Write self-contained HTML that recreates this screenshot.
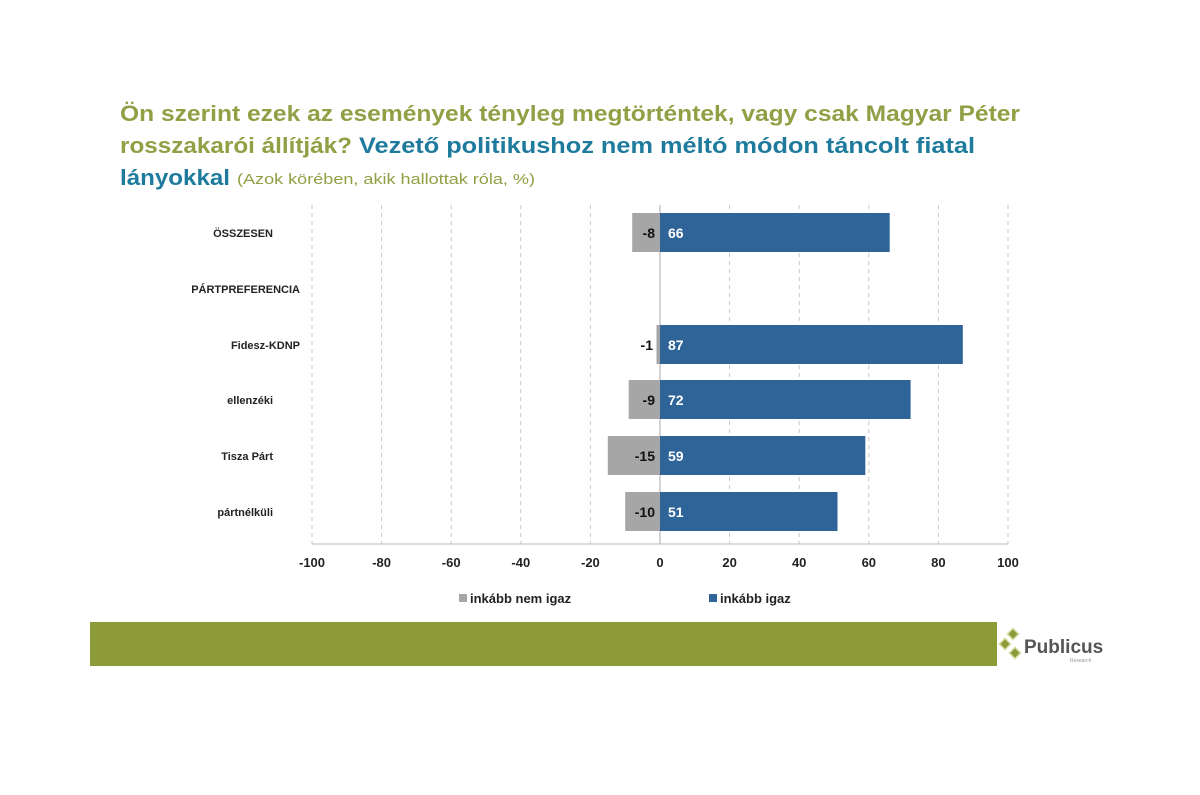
<!DOCTYPE html>
<html><head><meta charset="utf-8"><style>body{margin:0;background:#fff}svg{display:block}</style></head><body>
<svg width="1200" height="795" xmlns="http://www.w3.org/2000/svg" font-family="Liberation Sans, sans-serif">
<rect width="1200" height="795" fill="#fff"/>
<g font-size="22" font-weight="bold">
<text x="120" y="121" fill="#8fa045" textLength="900" lengthAdjust="spacingAndGlyphs">Ön szerint ezek az események tényleg megtörténtek, vagy csak Magyar Péter</text>
<text x="120" y="153" fill="#8fa045" textLength="232" lengthAdjust="spacingAndGlyphs">rosszakarói állítják?</text>
<text x="359" y="153" fill="#1f7b9e" textLength="616" lengthAdjust="spacingAndGlyphs">Vezető politikushoz nem méltó módon táncolt fiatal</text>
<text x="120" y="185" fill="#1f7b9e" textLength="110" lengthAdjust="spacingAndGlyphs">lányokkal</text>
</g>
<text x="237" y="184" fill="#8fa045" font-size="15" textLength="298" lengthAdjust="spacingAndGlyphs">(Azok körében, akik hallottak róla, %)</text>
<g stroke="#c8c8c8" stroke-dasharray="4,4" stroke-width="1">
<line x1="312" y1="205" x2="312" y2="544"/><line x1="381.6" y1="205" x2="381.6" y2="544"/><line x1="451.2" y1="205" x2="451.2" y2="544"/><line x1="520.8" y1="205" x2="520.8" y2="544"/><line x1="590.4" y1="205" x2="590.4" y2="544"/><line x1="729.6" y1="205" x2="729.6" y2="544"/><line x1="799.2" y1="205" x2="799.2" y2="544"/><line x1="868.8" y1="205" x2="868.8" y2="544"/><line x1="938.4" y1="205" x2="938.4" y2="544"/><line x1="1008" y1="205" x2="1008" y2="544"/>
</g>
<line x1="312" y1="544" x2="1008" y2="544" stroke="#bbb"/>
<line x1="660" y1="205" x2="660" y2="544" stroke="#aaa"/>
<g font-size="11" font-weight="bold" fill="#222" text-anchor="end">
<text x="273" y="237">ÖSSZESEN</text><text x="300" y="293">PÁRTPREFERENCIA</text><text x="300" y="349">Fidesz-KDNP</text><text x="273" y="404">ellenzéki</text><text x="273" y="460">Tisza Párt</text><text x="273" y="516">pártnélküli</text>
</g>
<g fill="#a6a6a6">
<rect x="632.2" y="213" width="27.8" height="39"/><rect x="656.5" y="325" width="3.5" height="39"/><rect x="628.7" y="380" width="31.3" height="39"/><rect x="607.8" y="436" width="52.2" height="39"/><rect x="625.2" y="492" width="34.8" height="39"/>
</g>
<g fill="#2e6498">
<rect x="660" y="213" width="229.7" height="39"/><rect x="660" y="325" width="302.8" height="39"/><rect x="660" y="380" width="250.6" height="39"/><rect x="660" y="436" width="205.3" height="39"/><rect x="660" y="492" width="177.5" height="39"/>
</g>
<g font-size="14" font-weight="bold">
<g fill="#111" text-anchor="end"><text x="655" y="238">-8</text><text x="653" y="350">-1</text><text x="655" y="405">-9</text><text x="655" y="461">-15</text><text x="655" y="517">-10</text></g>
<g fill="#fff"><text x="668" y="238">66</text><text x="668" y="350">87</text><text x="668" y="405">72</text><text x="668" y="461">59</text><text x="668" y="517">51</text></g>
</g>
<g font-size="13" font-weight="bold" fill="#222" text-anchor="middle">
<text x="312" y="567">-100</text><text x="381.6" y="567">-80</text><text x="451.2" y="567">-60</text><text x="520.8" y="567">-40</text><text x="590.4" y="567">-20</text><text x="660" y="567">0</text><text x="729.6" y="567">20</text><text x="799.2" y="567">40</text><text x="868.8" y="567">60</text><text x="938.4" y="567">80</text><text x="1008" y="567">100</text>
</g>
<rect x="459" y="594" width="8" height="8" fill="#a6a6a6"/>
<text x="470" y="603" font-size="13" font-weight="bold" fill="#222">inkább nem igaz</text>
<rect x="709" y="594" width="8" height="8" fill="#2e6498"/>
<text x="720" y="603" font-size="13" font-weight="bold" fill="#222">inkább igaz</text>
<rect x="90" y="622" width="907" height="44" fill="#8c9a38"/>
<g fill="#8c9a38" stroke="#d8dfa8" stroke-width="1.5">
<rect x="1009" y="630" width="8" height="8" transform="rotate(45 1013 634)"/>
<rect x="1001" y="640" width="8" height="8" transform="rotate(45 1005 644)"/>
<rect x="1011" y="649" width="8" height="8" transform="rotate(45 1015 653)"/>
</g>
<text x="1024" y="653" font-size="19" font-weight="bold" fill="#555">Publicus</text>
<text x="1070" y="662" font-size="5" fill="#999">Research</text>
</svg>
</body></html>
